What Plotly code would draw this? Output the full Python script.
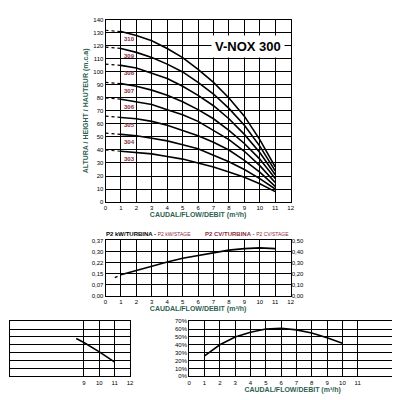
import plotly.graph_objects as go

flow = [1, 2, 3, 4, 5, 6, 7, 8, 9, 10, 11]
models = ["310", "309", "308", "307", "306", "305", "304", "303"]
heads = [
    [131, 128, 124, 118, 111, 102, 92, 80, 66, 48, 27],
    [118, 115, 111, 106, 100, 92, 83, 72, 59, 43, 24],
    [105, 103, 99, 95, 89, 82, 74, 64, 52, 38, 21],
    [91, 89, 86, 82, 77, 71, 64, 55, 45, 33, 18],
    [79, 77, 75, 71, 67, 62, 55, 48, 39, 28, 15],
    [65, 64, 62, 59, 55, 51, 46, 40, 32, 23, 12],
    [52, 51, 49, 47, 44, 41, 36, 31, 25, 18, 10],
    [39, 38, 37, 35, 33, 30, 27, 23, 19, 14, 8],
]
shutoff = [132, 119, 106, 92, 80, 66, 53, 40]

power_flow = [0.6, 1, 2, 3, 4, 5, 6, 7, 8, 9, 10, 11]
power = [0.12, 0.14, 0.17, 0.2, 0.225, 0.25, 0.27, 0.29, 0.305, 0.315, 0.32, 0.315]
kw_ticks = ["0,00", "0,07", "0,15", "0,22", "0,30", "0,37"]
cv_ticks = ["0,00", "0,10", "0,20", "0,30", "0,40", "0,50"]

npsh_flow = [8.5, 9, 10, 11]
npsh = [4.8, 4.3, 3.1, 1.8]

eff_flow = [1, 2, 3, 4, 5, 6, 7, 8, 9, 10]
eff = [26, 40, 50, 56, 60, 61, 59, 55, 49, 42]

teal = "#2f5f50"
red = "#8b2a3a"
font = "Liberation Sans"
W = 392  # page body has an 8px margin


def dx(a, b):
    return [(a - 8) / W, min(1, (b - 8) / W)]


def dy(top, bottom):
    return [1 - (bottom - 8) / W, 1 - (top - 8) / W]


fig = go.Figure()
line = dict(color="black", width=1.6)
for m, h, s in zip(models, heads, shutoff):
    fig.add_trace(go.Scatter(x=flow, y=h, mode="lines", line=line, xaxis="x", yaxis="y"))
    fig.add_trace(go.Scatter(x=[0, 1], y=[s, h[0]], mode="lines",
                             line=dict(color="black", width=1.2, dash="dot"), xaxis="x", yaxis="y"))
    fig.add_annotation(x=1.1, y=h[0] - 6, text="<b>" + m + "</b>", showarrow=False, xref="x", yref="y",
                       xanchor="left", font=dict(size=6, color=red, family=font))

fig.add_trace(go.Scatter(x=power_flow[:2], y=power[:2], mode="lines",
                         line=dict(color="black", width=1.3, dash="dot"), xaxis="x2", yaxis="y2"))
fig.add_trace(go.Scatter(x=power_flow[1:], y=power[1:], mode="lines", line=line, xaxis="x2", yaxis="y2"))
fig.add_trace(go.Scatter(x=npsh_flow, y=npsh, mode="lines", line=line, xaxis="x3", yaxis="y3"))
fig.add_trace(go.Scatter(x=eff_flow, y=eff, mode="lines", line=line, xaxis="x4", yaxis="y4"))
fig.add_trace(go.Scatter(x=[0], y=[0], mode="markers", marker=dict(opacity=0),
                         xaxis="x2", yaxis="y5", hoverinfo="skip"))

tick = dict(size=6, color="black", family=font)
ax = dict(showgrid=True, gridcolor="black", gridwidth=1, showline=True, linecolor="black",
          linewidth=1, mirror=True, zeroline=False, tickfont=tick, ticks="")
title_font = dict(size=7, color=teal, family=font)
flow_title = dict(text="<b>CAUDAL/FLOW/DEBIT (m³/h)</b>", font=title_font, standoff=1)

fig.update_layout(
    width=W, height=W, margin=dict(l=0, r=0, t=0, b=0),
    paper_bgcolor="white", plot_bgcolor="white", showlegend=False,
    xaxis=dict(ax, domain=dx(105, 293), range=[0, 12], dtick=1, title=flow_title),
    yaxis=dict(ax, domain=dy(17, 202), range=[0, 140], dtick=10, anchor="x",
               title=dict(text="<b>ALTURA / HEIGHT / HAUTEUR (m.c.a)</b>", font=title_font, standoff=3)),
    xaxis2=dict(ax, domain=dx(105, 293), range=[0, 12], dtick=1, anchor="y2", title=flow_title),
    yaxis2=dict(ax, domain=dy(241, 297), range=[0, 0.37], anchor="x2",
                tickvals=[i * 0.074 for i in range(6)], ticktext=kw_ticks),
    yaxis5=dict(domain=dy(241, 297), range=[0, 0.5], overlaying="y2", side="right", anchor="x2",
                tickvals=[i * 0.1 for i in range(6)], ticktext=cv_ticks,
                tickfont=tick, showgrid=False, zeroline=False),
    xaxis3=dict(ax, domain=dx(8, 130), range=[4.2, 12], tickvals=[9, 10, 11, 12], anchor="y3"),
    yaxis3=dict(ax, domain=dy(323, 379), range=[0, 7], dtick=1, showticklabels=False, anchor="x3"),
    xaxis4=dict(ax, domain=dx(190, 400), range=[0, 13.5], tickvals=list(range(0, 12)), anchor="y4",
                title=flow_title),
    yaxis4=dict(ax, domain=dy(323, 379), range=[0, 70], dtick=10, ticksuffix="%", anchor="x4"),
)

fig.add_annotation(x=(287 - 8) / W, y=1 - (32 - 8) / W, xref="paper", yref="paper", text="<b>V-NOX 300</b>",
                   showarrow=False, xanchor="right", bgcolor="white",
                   font=dict(size=13, color="black", family=font), borderpad=3)
fig.add_annotation(x=(103 - 8) / W, y=1 - (240 - 8) / W, xref="paper", yref="paper", yanchor="bottom",
                   xanchor="left", showarrow=False,
                   text="<b>P2 kW/TURBINA - </b><span style='color:#8b2a3a;font-size:5px'>P2 kW/STAGE</span>",
                   font=dict(size=6, color="black", family=font))
fig.add_annotation(x=(293 - 8) / W, y=1 - (240 - 8) / W, xref="paper", yref="paper", yanchor="bottom",
                   xanchor="right", showarrow=False,
                   text="<b>P2 CV/TURBINA - </b><span style='font-size:5px'>P2 CV/STAGE</span>",
                   font=dict(size=6, color=red, family=font))

fig.write_html("out.html")
